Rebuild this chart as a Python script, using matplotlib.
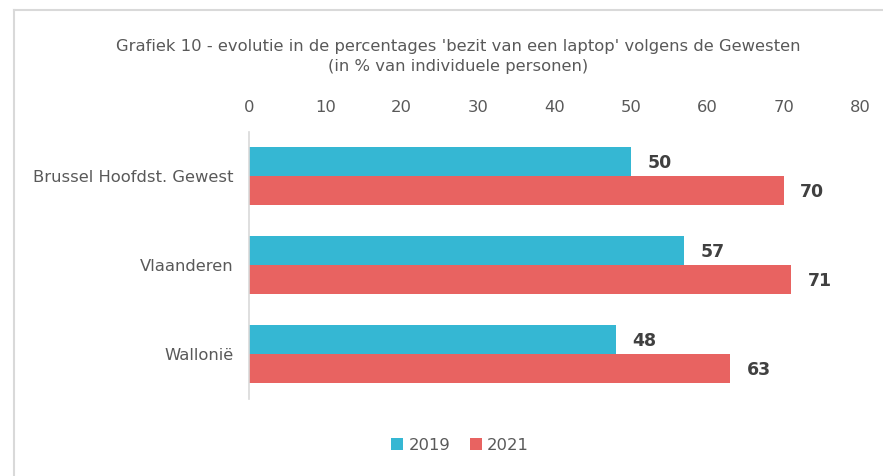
import matplotlib
matplotlib.use('Agg')
import matplotlib.pyplot as plt
import numpy as np
from matplotlib.lines import Line2D

# data
regions = ["Brussel Hoofdst. Gewest", "Vlaanderen", "Wallonië"]
years = ["2019", "2021"]
v2019 = [50, 57, 48]
v2021 = [70, 71, 63]

c2019 = "#35B7D3"
c2021 = "#E86361"

fig = plt.figure(figsize=(8.83, 4.76), dpi=100)
ax = fig.add_axes([249 / 883, 1 - 398.5 / 476, (860 - 249) / 883, (398.5 - 131.5) / 476])

y = np.arange(len(regions))
h = 0.326
b1 = ax.barh(y - h / 2, v2019, height=h, color=c2019, label=years[0])
b2 = ax.barh(y + h / 2, v2021, height=h, color=c2021, label=years[1])

for bars, vals in ((b1, v2019), (b2, v2021)):
    for bar, v in zip(bars, vals):
        ax.annotate(str(v), (v, bar.get_y() + bar.get_height() / 2),
                    xytext=(12, -1), textcoords="offset points",
                    va="center", ha="left", fontsize=12.5, fontweight="bold",
                    color="#404040")

ax.set_xlim(0, 80)
ax.set_ylim(len(regions) - 0.5, -0.5)
ax.set_xticks(range(0, 81, 10))
ax.set_yticks(y)
ax.set_yticklabels(regions)
ax.xaxis.tick_top()
ax.tick_params(axis="both", length=0, labelsize=11.8, colors="#595959")
ax.tick_params(axis="x", pad=12)
ax.tick_params(axis="y", pad=11)
for s in ("top", "right", "bottom"):
    ax.spines[s].set_visible(False)
ax.spines["left"].set_color("#D9D9D9")
ax.spines["left"].set_linewidth(1.2)

fig.text(458 / 883, 1 - 46 / 476, "Grafiek 10 - evolutie in de percentages 'bezit van een laptop' volgens de Gewesten",
         ha="center", va="center", fontsize=11.8, color="#595959")
fig.text(458 / 883, 1 - 66 / 476, "(in % van individuele personen)",
         ha="center", va="center", fontsize=11.8, color="#595959")

leg = fig.legend(handles=[b1, b2], loc="center", bbox_to_anchor=(460 / 883, 1 - 445 / 476),
                 ncol=2, frameon=False, fontsize=11.8, handlelength=0.75, handleheight=0.75,
                 handletextpad=0.3, columnspacing=1.2, labelcolor="#595959")

# chart border (only left and top visible in crop)
fig.add_artist(Line2D([14 / 883, 14 / 883], [0, 1 - 10 / 476], transform=fig.transFigure,
                      color="#D9D9D9", linewidth=1.5))
fig.add_artist(Line2D([14 / 883, 1], [1 - 10 / 476, 1 - 10 / 476], transform=fig.transFigure,
                      color="#D9D9D9", linewidth=1.5))

fig.savefig("out.png", dpi=100)
